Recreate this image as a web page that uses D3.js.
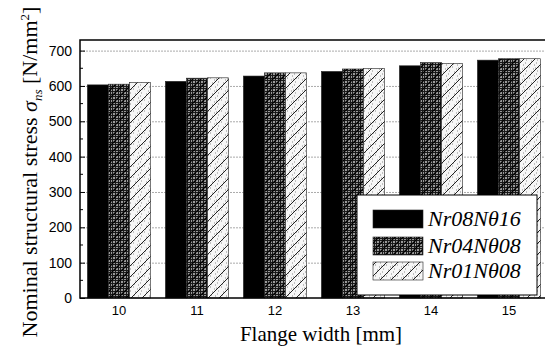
<!DOCTYPE html>
<html><head><meta charset="utf-8">
<script src="https://cdn.jsdelivr.net/npm/d3@7"></script>
<style>body{margin:0;background:#fff}svg{display:block}</style>
</head><body><svg id="c" width="545" height="349"></svg>
<script>
const categories = ["10","11","12","13","14","15"];
const seriesNames = ["Nr08Nθ16","Nr04Nθ08","Nr01Nθ08"];
const s1 = [603, 613, 628, 641, 657, 673];
const s2 = [605, 622, 637, 648, 666, 677];
const s3 = [610, 623, 637, 649, 664, 677];
const yTicks = [0,100,200,300,400,500,600,700];

const svg = d3.select("#c");
const L = 80, R = 548, T = 40, B = 298;
const x = d3.scaleBand().domain(categories).range([L, R]).paddingInner(0.19).paddingOuter(0.095);
const xs = d3.scaleBand().domain([0,1,2]).range([0, x.bandwidth()]);
const y = d3.scaleLinear().domain([0, 730]).range([B, T]);

const defs = svg.append("defs");
const p2 = defs.append("pattern").attr("id","pdark").attr("patternUnits","userSpaceOnUse").attr("width",3).attr("height",3);
p2.append("rect").attr("width",3).attr("height",3).attr("fill","#9a9a9a");
p2.append("path").attr("d","M0,0.5H3M0.5,0V3").attr("stroke","#1a1a1a").attr("stroke-width",1);
const p2b = defs.append("pattern").attr("id","pdark2").attr("patternUnits","userSpaceOnUse").attr("width",8).attr("height",8);
p2b.append("rect").attr("width",8).attr("height",8).attr("fill","url(#pdark)");
p2b.append("path").attr("d","M-1,9L9,-1M-1,1L1,-1M7,9L9,7").attr("stroke","#000").attr("stroke-width",1.3);
const p3 = defs.append("pattern").attr("id","plight").attr("patternUnits","userSpaceOnUse").attr("width",11).attr("height",11);
p3.append("rect").attr("width",11).attr("height",11).attr("fill","#f6f6f6");
p3.append("path").attr("d","M1,1h1M5,3h1M3,6h1M8,8h1M7,2h1M2,9h1M9,5h1M6,10h1M10,1h1").attr("stroke","#888").attr("stroke-width",1);
p3.append("path").attr("d","M-1,12L12,-1M-1,1L1,-1M10,12L12,10").attr("stroke","#222").attr("stroke-width",1);
const fills = ["#000","url(#pdark2)","url(#plight)"];

svg.append("g").selectAll("line").data(yTicks.filter(d=>d>0)).join("line")
  .attr("x1",L).attr("x2",R).attr("y1",d=>y(d)+0.5).attr("y2",d=>y(d)+0.5)
  .attr("stroke","#aaa").attr("stroke-dasharray","2,1");

const series = [s1,s2,s3];
const data = [];
categories.forEach((c,i)=>series.forEach((s,j)=>data.push({c, j, v:s[i]})));
svg.append("g").selectAll("rect").data(data).join("rect")
  .attr("x",d=>x(d.c)+xs(d.j)).attr("width",xs.bandwidth())
  .attr("y",d=>y(d.v)).attr("height",d=>B-y(d.v))
  .attr("fill",d=>fills[d.j]).attr("stroke","#222").attr("stroke-width",0.6);

svg.append("rect").attr("x",L).attr("y",T).attr("width",R-L).attr("height",B-T)
  .attr("fill","none").attr("stroke","#000").attr("stroke-width",1.5);

const yAxis = d3.axisLeft(y).tickValues(yTicks).tickSize(-5).tickPadding(8);
const gy = svg.append("g").attr("transform",`translate(${L},0)`).call(yAxis);
gy.select(".domain").remove();
gy.selectAll("text").attr("font-family","Liberation Sans, Arial").attr("font-size",14).attr("fill","#000");
gy.selectAll("line").attr("stroke","#000");
const minor = d3.range(50,730,100);
svg.append("g").selectAll("line").data(minor).join("line")
  .attr("x1",L).attr("x2",L+3).attr("y1",d=>y(d)).attr("y2",d=>y(d)).attr("stroke","#000");

const xAxis = d3.axisBottom(x).tickSize(0).tickPadding(8);
const gx = svg.append("g").attr("transform",`translate(0,${B})`).call(xAxis);
gx.select(".domain").remove();
gx.selectAll("text").attr("font-family","Liberation Sans, Arial").attr("font-size",13).attr("fill","#000");

svg.append("text").attr("x",321).attr("y",341).attr("text-anchor","middle")
  .attr("font-family","Liberation Serif, Times New Roman").attr("font-size",21).text("Flange width [mm]");
const yt = svg.append("text").attr("transform","translate(37,172) rotate(-90)").attr("text-anchor","middle")
  .attr("font-family","Liberation Serif, Times New Roman").attr("font-size",22);
yt.append("tspan").text("Nominal structural stress ");
yt.append("tspan").attr("font-style","italic").text("σ");
yt.append("tspan").attr("font-style","italic").attr("font-size",13).attr("dy",5).text("ns");
yt.append("tspan").attr("dy",-5).text(" [N/mm");
yt.append("tspan").attr("font-size",13).attr("dy",-8).text("2");
yt.append("tspan").attr("dy",8).text("]");

const lg = svg.append("g");
lg.append("rect").attr("x",357).attr("y",195).attr("width",180).attr("height",100)
  .attr("fill","#fff").attr("stroke","#000").attr("stroke-width",1);
const rows = [219,246,271];
seriesNames.forEach((n,j)=>{
  lg.append("rect").attr("x",373).attr("y",rows[j]-9).attr("width",50).attr("height",18)
    .attr("fill",fills[j]).attr("stroke","#222").attr("stroke-width",0.6);
  lg.append("text").attr("x",428).attr("y",rows[j]+7).attr("font-family","Liberation Serif, Times New Roman")
    .attr("font-style","italic").attr("font-size",22).text(n);
});
</script></body></html>
